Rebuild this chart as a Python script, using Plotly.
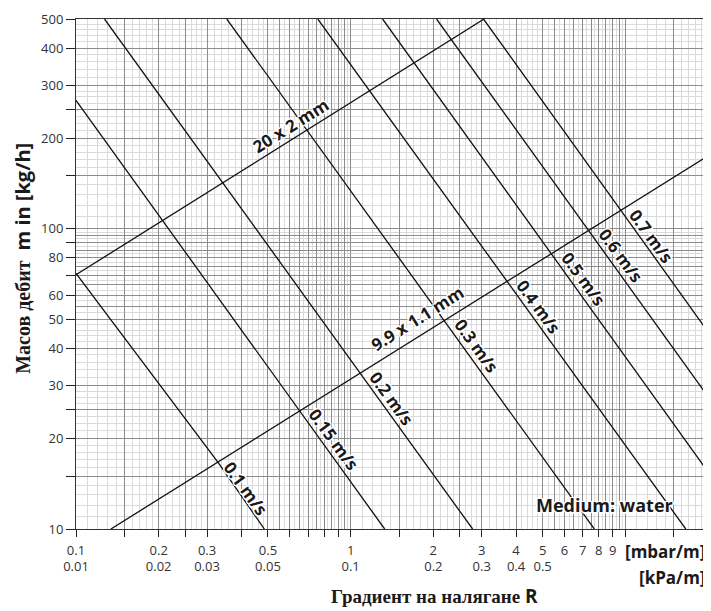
import math
import plotly.graph_objects as go

# ---------------- data ----------------
# Pipe characteristic lines: pressure gradient R [mbar/m] vs mass flow m [kg/h]
pipe_names = ["20 x 2 mm", "9.9 x 1.1 mm"]
pipe_R = [[0.1, 3.06], [0.134, 20.0]]
pipe_m = [[70.3, 500.0], [10.0, 175.0]]
pipe_label_R = [0.605, 1.745]
pipe_label_m = [220.5, 50.2]

# Constant velocity lines
vel_names = ["0.1 m/s", "0.15 m/s", "0.2 m/s", "0.3 m/s",
             "0.4 m/s", "0.5 m/s", "0.6 m/s", "0.7 m/s"]
vel_R = [[0.1, 0.33, 0.485], [0.1, 1.33], [0.127, 2.78], [0.354, 7.71],
         [0.759, 16.6], [1.307, 20.0], [2.054, 20.0], [3.045, 20.0]]
vel_m = [[71.0, 16.6, 10.0], [268.0, 10.0], [500.0, 10.0], [500.0, 10.0],
         [500.0, 10.0], [500.0, 15.5], [500.0, 27.6], [500.0, 45.4]]
vel_label_R = [0.415, 0.868, 1.41, 2.87, 4.83, 7.03, 9.67, 12.49]
vel_label_m = [13.6, 19.8, 27.2, 40.8, 55.0, 68.1, 81.8, 94.5]

# Axis ticks
x_tickvals = [0.1, 0.15, 0.2, 0.25, 0.3, 0.4, 0.5, 0.6, 0.7, 0.8, 0.9, 1,
              1.5, 2, 2.5, 3, 4, 5, 6, 7, 8, 9, 10, 15, 20]
x_ticktext_mbar = ["0.1", "", "0.2", "", "0.3", "", "0.5", "", "", "", "", "1",
                   "", "2", "", "3", "4", "5", "6", "7", "8", "9", "", "", ""]
x_kpa_vals = [0.1, 0.2, 0.3, 0.5, 1, 2, 3, 4, 5]
x_kpa_text = ["0.01", "0.02", "0.03", "0.05", "0.1", "0.2", "0.3", "0.4", "0.5"]
y_tickvals = [10, 15, 20, 25, 30, 40, 50, 60, 70, 80, 90, 100, 150, 200, 250,
              300, 400, 500]
y_ticktext = ["10", "", "20", "", "30", "40", "50", "60", "", "80", "", "100",
              "", "200", "", "300", "400", "500"]

x_range = [0.1, 20.0]
y_range = [10.0, 500.0]

# ---------------- graph paper grid (style) ----------------
dark_mult = [1, 1.5, 2, 2.5, 3, 4, 5, 5.5, 6, 6.5, 7, 7.5, 8, 8.5, 9, 9.5]
light_mult = [1.1, 1.2, 1.3, 1.4, 1.6, 1.7, 1.8, 1.9,
              2.125, 2.25, 2.375, 2.625, 2.75, 2.875,
              3.2, 3.4, 3.6, 3.8, 4.2, 4.4, 4.6, 4.8,
              5.25, 5.75, 6.25, 6.75, 7.25, 7.75, 8.25, 8.75, 9.25, 9.75]


def grid_vals(mults, decades, lo, hi):
    out = []
    for d in decades:
        for k in mults:
            v = round(k * d, 6)
            if lo <= v <= hi:
                out.append(v)
    return out


x_dark = grid_vals(dark_mult, [0.1, 1, 10], *x_range)
x_light = grid_vals(light_mult, [0.1, 1, 10], *x_range)
y_dark = grid_vals(dark_mult, [10, 100], *y_range)
y_light = grid_vals(light_mult, [10, 100], *y_range)

DARK = "#8c8c8c"
LIGHT = "#dadada"
INK = "#111111"
SANS = "Open Sans"
SERIF = "Liberation Serif"

fig = go.Figure()

# empty helper traces so the overlay axes (grid, second tick row) are drawn
fig.add_trace(go.Scatter(x=[None], y=[None], xaxis="x2", yaxis="y2",
                         mode="lines", hoverinfo="skip", showlegend=False))
fig.add_trace(go.Scatter(x=[None], y=[None], xaxis="x3", yaxis="y",
                         mode="lines", hoverinfo="skip", showlegend=False))

for name, R, m in zip(pipe_names, pipe_R, pipe_m):
    fig.add_trace(go.Scatter(x=R, y=m, mode="lines", name=name,
                             line=dict(color=INK, width=1.3),
                             hoverinfo="skip"))
for name, R, m in zip(vel_names, vel_R, vel_m):
    fig.add_trace(go.Scatter(x=R, y=m, mode="lines", name=name,
                             line=dict(color=INK, width=1.3),
                             hoverinfo="skip"))

halo = ("1.5px 0 0 #fff, -1.5px 0 0 #fff, 0 1.5px 0 #fff, 0 -1.5px 0 #fff, "
        "1px 1px 0 #fff, -1px -1px 0 #fff, 1px -1px 0 #fff, -1px 1px 0 #fff")
label_font = dict(family=SANS, size=17, color="#1a1a1a", weight="bold",
                  shadow=halo)

annotations = []
for name, R, m in zip(vel_names, vel_label_R, vel_label_m):
    annotations.append(dict(x=math.log10(R), y=math.log10(m), xref="x", yref="y",
                            text=name, showarrow=False, textangle=54,
                            font=label_font, xanchor="center", yanchor="middle"))
for name, R, m in zip(pipe_names, pipe_label_R, pipe_label_m):
    annotations.append(dict(x=math.log10(R), y=math.log10(m), xref="x", yref="y",
                            text=name, showarrow=False, textangle=-32,
                            font=label_font, xanchor="center", yanchor="middle"))

annotations += [
    dict(x=0.837, y=0.047, xref="paper", yref="paper", text="Medium: water",
         showarrow=False, font=dict(family=SANS, size=18, color="#1a1a1a",
                                    weight="bold", shadow=halo),
         xanchor="center", yanchor="middle"),
    dict(x=0.999, y=-0.045, xref="paper", yref="paper", text="[mbar/m]",
         showarrow=False, font=dict(family=SANS, size=17, color="#1a1a1a",
                                    weight="bold"),
         xanchor="right", yanchor="middle"),
    dict(x=0.999, y=-0.095, xref="paper", yref="paper", text="[kPa/m]",
         showarrow=False, font=dict(family=SANS, size=17, color="#1a1a1a",
                                    weight="bold"),
         xanchor="right", yanchor="middle"),
    dict(x=0.567, y=-0.132, xref="paper", yref="paper",
         text="Градиент на налягане <span style=\"font-family:'Open Sans'\">R</span>",
         showarrow=False, font=dict(family=SERIF, size=19, color="#1a1a1a",
                                    weight="bold"),
         xanchor="center", yanchor="middle"),
    dict(x=-0.084, y=0.5315, xref="paper", yref="paper",
         text="Масов дебит  <span style=\"font-family:'Open Sans'\">m in [kg/h]</span>",
         showarrow=False, textangle=-90,
         font=dict(family=SERIF, size=20, color="#1a1a1a", weight="bold"),
         xanchor="center", yanchor="middle"),
]

axis_common = dict(type="log", showline=True, linecolor="#333333", linewidth=1,
                   mirror=True, showgrid=False, zeroline=False,
                   ticks="outside", tickcolor="#222222", tickwidth=1,
                   tickfont=dict(family=SANS, size=13, color="#333333"),
                   tickmode="array", ticklabeloverflow="allow")

xr = [math.log10(x_range[0]), math.log10(x_range[1])]
yr = [math.log10(y_range[0]), math.log10(y_range[1])]

# The page body has an 8px margin, so the figure is sized to fit the window.
fig.update_layout(
    width=703, height=603,
    margin=dict(l=68, r=2, t=9, b=82),
    paper_bgcolor="white", plot_bgcolor="white",
    showlegend=False,
    xaxis=dict(axis_common, range=xr, tickvals=x_tickvals,
               ticktext=x_ticktext_mbar, ticklen=7, ticklabelstandoff=2),
    yaxis=dict(axis_common, range=yr, tickvals=y_tickvals, ticktext=y_ticktext,
               ticklen=9),
    # second row of x tick labels (kPa/m)
    xaxis3=dict(type="log", overlaying="x", anchor="y", side="bottom",
                range=xr, tickmode="array", tickvals=x_kpa_vals,
                ticktext=x_kpa_text, ticks="", showgrid=False, showline=False,
                zeroline=False, ticklabelstandoff=28, ticklabeloverflow="allow",
                tickfont=dict(family=SANS, size=13, color="#333333")),
    # graph-paper grid
    xaxis2=dict(type="log", overlaying="x", anchor="y2", range=xr,
                tickmode="array", tickvals=x_dark, showticklabels=False,
                ticks="", showline=False, zeroline=False,
                showgrid=True, gridcolor=DARK, gridwidth=1.2,
                minor=dict(tickmode="array", tickvals=x_light, showgrid=True,
                           gridcolor=LIGHT, gridwidth=1.1, ticks="")),
    yaxis2=dict(type="log", overlaying="y", anchor="x2", range=yr,
                tickmode="array", tickvals=y_dark, showticklabels=False,
                ticks="", showline=False, zeroline=False,
                showgrid=True, gridcolor=DARK, gridwidth=1.2,
                minor=dict(tickmode="array", tickvals=y_light, showgrid=True,
                           gridcolor=LIGHT, gridwidth=1.1, ticks="")),
    annotations=annotations,
)

fig.write_html("out.html")
